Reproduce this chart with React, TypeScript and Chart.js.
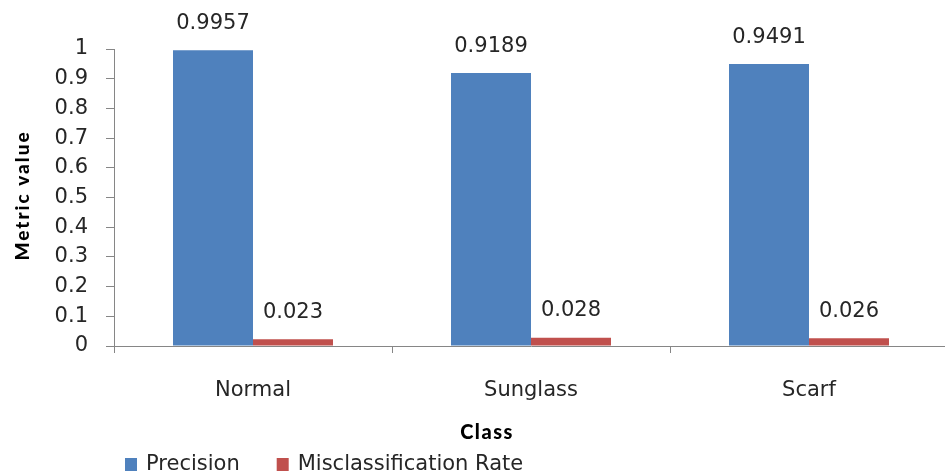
import React, { useEffect, useRef } from "react";
import { Chart, registerables } from "chart.js";

Chart.register(...registerables);

const categories = ["Normal", "Sunglass", "Scarf"];
const precision = [0.9957, 0.9189, 0.9491];
const misclassification = [0.023, 0.028, 0.026];
const seriesNames = ["Precision", "Misclassification Rate"];
const seriesColors = ["#4F81BD", "#C0504D"];
const yTickLabels = ["0", "0.1", "0.2", "0.3", "0.4", "0.5", "0.6", "0.7", "0.8", "0.9", "1"];
const yTitle = "Metric value";
const xTitle = "Class";

const FONT = "'DejaVu Sans', Verdana, sans-serif";
const TEXT = "#262626";
const AXIS = "#868686";

const overlay = {
  id: "overlay",
  afterDraw(chart: any) {
    const ctx = chart.ctx;
    const a = chart.chartArea;
    ctx.save();
    // data labels
    ctx.font = `21px ${FONT}`;
    ctx.fillStyle = TEXT;
    ctx.textAlign = "center";
    ctx.textBaseline = "middle";
    chart.data.datasets.forEach((ds: any, di: number) => {
      const meta = chart.getDatasetMeta(di);
      meta.data.forEach((el: any, i: number) => {
        ctx.fillText(String(ds.data[i]), el.x, el.y - 27);
      });
    });
    // y title
    ctx.save();
    ctx.translate(23, (a.top + a.bottom) / 2 - 2);
    ctx.rotate(-Math.PI / 2);
    ctx.font = `900 19px Lato, sans-serif`;
    (ctx as any).letterSpacing = "2px";
    ctx.fillStyle = "#000";
    ctx.fillText(yTitle, 0, 0);
    ctx.restore();
    // x title
    ctx.save();
    ctx.font = `900 20px Lato, sans-serif`;
    (ctx as any).letterSpacing = "1.5px";
    ctx.fillStyle = "#000";
    ctx.fillText(xTitle, 487, 433);
    ctx.restore();
    // legend
    ctx.font = `21px ${FONT}`;
    ctx.textAlign = "left";
    ctx.textBaseline = "middle";
    let x = 125;
    const y = 465;
    chart.data.datasets.forEach((ds: any) => {
      ctx.fillStyle = ds.backgroundColor;
      ctx.fillRect(x, y - 7, 12, 13);
      ctx.fillStyle = TEXT;
      const tx = x + 21;
      ctx.fillText(ds.label, tx, y);
      x = tx + ctx.measureText(ds.label).width + 37;
    });
    ctx.restore();
  },
};

export default function App() {
  const ref = useRef<HTMLCanvasElement | null>(null);
  useEffect(() => {
    document.body.style.margin = "0";
    document.body.style.overflow = "hidden";
    const chart = new Chart(ref.current as HTMLCanvasElement, {
      type: "bar",
      data: {
        labels: categories,
        datasets: [
          { label: seriesNames[0], data: precision, backgroundColor: seriesColors[0] },
          { label: seriesNames[1], data: misclassification, backgroundColor: seriesColors[1] },
        ],
      },
      options: {
        responsive: false,
        animation: false,
        layout: { padding: { top: 49, left: 0, right: 0, bottom: 0 } },
        datasets: { bar: { barPercentage: 1, categoryPercentage: 0.5755 } },
        plugins: { legend: { display: false }, tooltip: { enabled: false } },
        scales: {
          x: {
            afterFit: (s: any) => { s.height = 130; },
            grid: { drawOnChartArea: false, drawTicks: true, tickLength: 7, color: AXIS, offset: true },
            border: { color: AXIS, width: 1 },
            ticks: { color: TEXT, font: { family: FONT, size: 21 }, padding: 25, maxRotation: 0 },
          },
          y: {
            min: 0,
            max: 1,
            afterFit: (s: any) => { s.width = 114; },
            grid: { drawOnChartArea: false, drawTicks: true, tickLength: 8, color: AXIS },
            border: { color: AXIS, width: 1 },
            ticks: {
              stepSize: 0.1,
              color: TEXT,
              font: { family: FONT, size: 21 },
              padding: 18,
              callback: (_v: any, i: number) => yTickLabels[i],
            },
          },
        },
      },
      plugins: [overlay],
    });
    return () => chart.destroy();
  }, []);
  return (
    <div style={{ width: 945, height: 476, overflow: "hidden", background: "#fff" }}>
      <canvas ref={ref} width={948} height={476} style={{ display: "block" }} />
    </div>
  );
}
